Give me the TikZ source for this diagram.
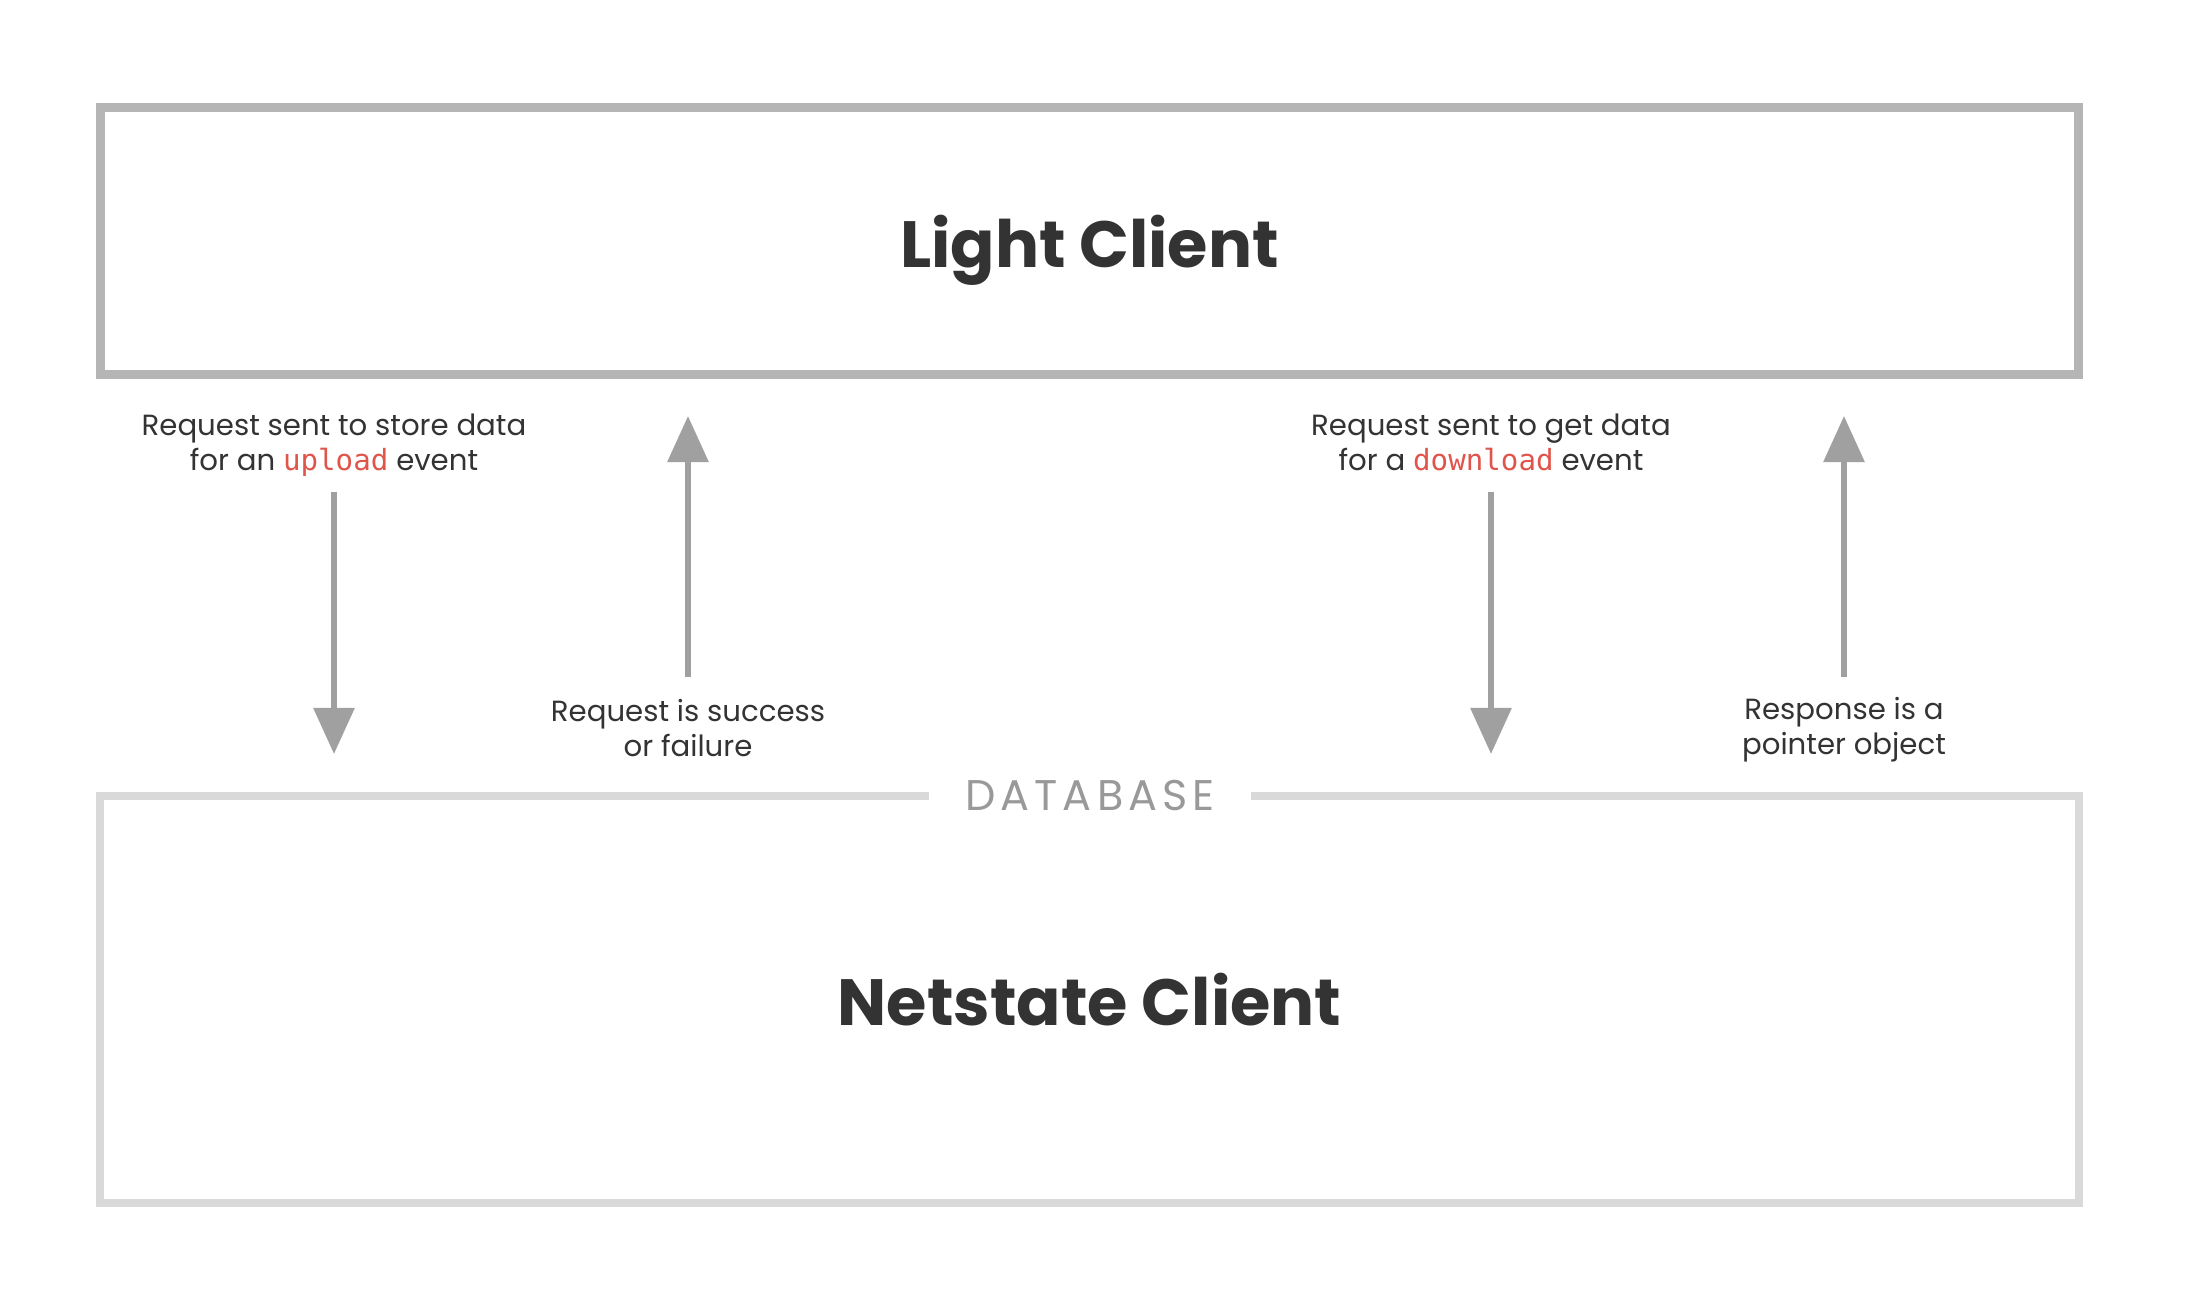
\documentclass[tikz,border=0pt]{standalone}
\usepackage{fontspec}
\setmainfont{Poppins}
\newfontfamily\codefont{DejaVu Sans Mono}
\usepackage{tikz}
\usetikzlibrary{arrows.meta}
\definecolor{ink}{HTML}{333333}
\definecolor{topline}{HTML}{B5B5B5}
\definecolor{dbline}{HTML}{D9D9D9}
\definecolor{dbtext}{HTML}{999999}
\definecolor{arrowgray}{HTML}{A0A0A0}
\definecolor{codered}{HTML}{E0554B}
\newcommand{\code}[1]{{\codefont\color{codered}#1}}
\tikzstyle{clientbox} = [rectangle, minimum width=19.77cm, text centered, text depth=0pt, text=ink, font=\fontsize{18.6}{22}\selectfont\bfseries]
\tikzstyle{note} = [align=center, text=ink, font=\fontsize{8.3}{10}\selectfont]
\tikzstyle{dblabel} = [fill=white, inner xsep=0.36cm, text=dbtext, font=\fontsize{12.2}{14}\selectfont\addfontfeatures{LetterSpace=12}]
\tikzstyle{arrow} = [arrowgray, line width=0.06cm, -{Triangle[width=0.40cm,length=0.46cm]}]

\begin{document}
\begin{tikzpicture}[x=0.01cm, y=-0.01cm]
\useasboundingbox (0,0) rectangle (2202,1294);

\node (light) [clientbox, minimum height=2.66cm, draw=topline, line width=0.09cm] at (1089.5,241) {Light Client};
\node (netstate) [clientbox, minimum height=4.07cm, draw=dbline, line width=0.08cm] at (1089.5,999.5) {Netstate Client};
\node (db) [dblabel] at (1090,796) {DATABASE};

\node (req1) [note] at (334,445) {Request sent to store data\\for an \code{upload} event};
\node (res1) [note] at (688,728) {Request is success\\or failure};
\node (req2) [note] at (1491,442) {Request sent to get data\\for a \code{download} event};
\node (res2) [note] at (1844,730) {Response is a\\pointer object};

\coordinate (a1) at (334,492);
\coordinate (b1) at (334,754);
\coordinate (a2) at (688,677);
\coordinate (b2) at (688,416);
\coordinate (a3) at (1491,492);
\coordinate (b3) at (1491,754);
\coordinate (a4) at (1844,677);
\coordinate (b4) at (1844,416);

\draw [arrow] (a1) -- (b1);
\draw [arrow] (a2) -- (b2);
\draw [arrow] (a3) -- (b3);
\draw [arrow] (a4) -- (b4);

\end{tikzpicture}
\end{document}
